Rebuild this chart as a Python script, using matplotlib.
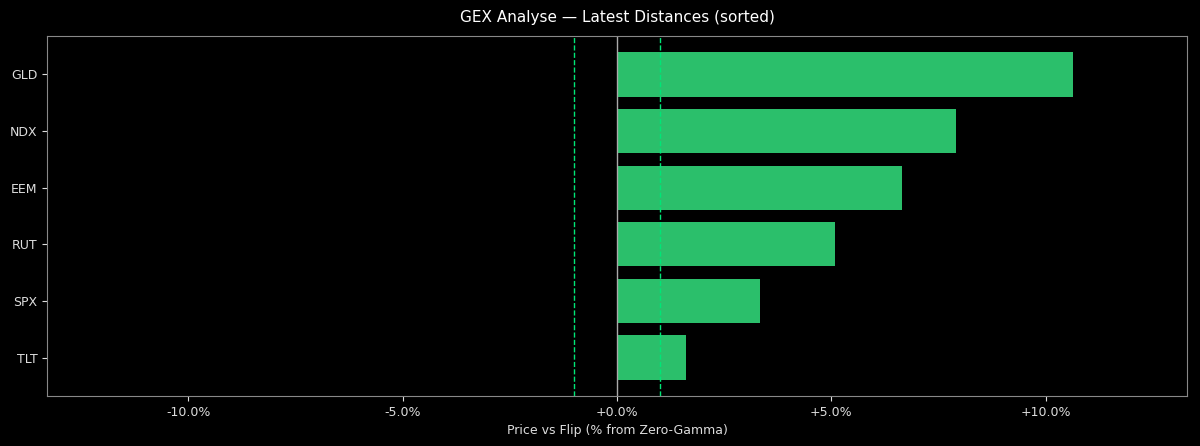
import matplotlib.pyplot as plt
from matplotlib.ticker import FuncFormatter

tickers = ["TLT", "SPX", "RUT", "EEM", "NDX", "GLD"]
distances = [1.61, 3.34, 5.09, 6.66, 7.92, 10.65]
band = 1.0

fig = plt.figure(figsize=(12, 4.46), dpi=100, facecolor="black")
ax = fig.add_axes([47 / 1200, 50 / 446, 1140 / 1200, 360 / 446])
ax.set_facecolor("black")

ax.barh(tickers, distances, height=0.78, color="#2bbf6b")
ax.axvline(0, color="#aaaaaa", linewidth=1)
ax.axvline(-band, color="#00e676", linestyle="--", linewidth=1)
ax.axvline(band, color="#00e676", linestyle="--", linewidth=1)

ax.set_xlim(-13.3, 13.3)
ax.set_ylim(-0.68, 5.68)
ax.set_xticks([-10, -5, 0, 5, 10])
ax.xaxis.set_major_formatter(FuncFormatter(lambda v, p: f"{v:+.1f}%"))
ax.set_xlabel("Price vs Flip (% from Zero-Gamma)", color="#dddddd", fontsize=9)
ax.set_title("GEX Analyse — Latest Distances (sorted)", color="white", fontsize=11, pad=10)
ax.tick_params(colors="#dddddd", labelsize=9)
for s in ax.spines.values():
    s.set_color("#888888")

fig.savefig("out.png", dpi=100, facecolor="black")
